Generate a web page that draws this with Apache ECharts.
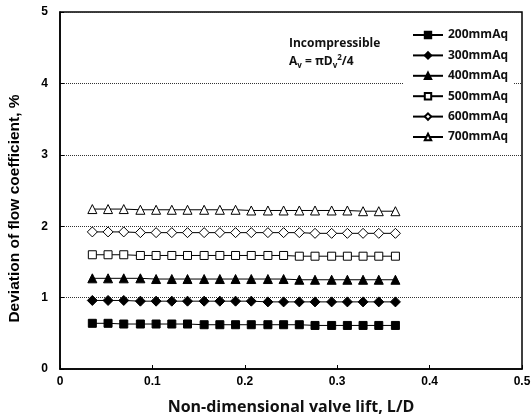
<!DOCTYPE html>
<html>
<head>
<meta charset="utf-8">
<script src="https://cdn.jsdelivr.net/npm/echarts@6/dist/echarts.min.js"></script>
<style>
  html, body { margin: 0; padding: 0; background: #fff; }
  #main { width: 531px; height: 420px; }
</style>
</head>
<body>
<div id="main"></div>
<script>
// valve lift L/D
const liftRatio = [0.035, 0.052, 0.069, 0.087, 0.104, 0.121, 0.138, 0.156, 0.173, 0.190,
  0.207, 0.225, 0.242, 0.259, 0.276, 0.294, 0.311, 0.328, 0.345, 0.363];

// deviation of flow coefficient, %
const dev200 = [0.64, 0.64, 0.63, 0.63, 0.63, 0.63, 0.63, 0.62, 0.62, 0.62,
  0.62, 0.62, 0.62, 0.62, 0.61, 0.61, 0.61, 0.61, 0.61, 0.61];
const dev300 = [0.96, 0.96, 0.96, 0.95, 0.95, 0.95, 0.95, 0.95, 0.95, 0.95,
  0.95, 0.94, 0.94, 0.94, 0.94, 0.94, 0.94, 0.94, 0.94, 0.94];
const dev400 = [1.27, 1.27, 1.27, 1.27, 1.26, 1.26, 1.26, 1.26, 1.26, 1.26,
  1.26, 1.26, 1.26, 1.25, 1.25, 1.25, 1.25, 1.25, 1.25, 1.25];
const dev500 = [1.60, 1.60, 1.60, 1.59, 1.59, 1.59, 1.59, 1.59, 1.59, 1.59,
  1.59, 1.59, 1.59, 1.58, 1.58, 1.58, 1.58, 1.58, 1.58, 1.58];
const dev600 = [1.92, 1.92, 1.92, 1.91, 1.91, 1.91, 1.91, 1.91, 1.91, 1.91,
  1.91, 1.91, 1.91, 1.91, 1.90, 1.90, 1.90, 1.90, 1.90, 1.90];
const dev700 = [2.24, 2.24, 2.24, 2.23, 2.23, 2.23, 2.23, 2.23, 2.23, 2.23,
  2.22, 2.22, 2.22, 2.22, 2.22, 2.22, 2.22, 2.21, 2.21, 2.21];

const seriesNames = ["200mmAq", "300mmAq", "400mmAq", "500mmAq", "600mmAq", "700mmAq"];
const seriesValues = [dev200, dev300, dev400, dev500, dev600, dev700];
const symbols = ["rect", "diamond", "triangle", "rect", "diamond", "triangle"];
const symbolSizes = [8, 10, 9, 8, 10, 9];
const filled = [true, true, true, false, false, false];

const xTicks = { min: 0, max: 0.5, interval: 0.1 };
const yTicks = { min: 0, max: 5, interval: 1 };

const labelFont = { color: "#000", fontWeight: "bold", fontSize: 12, fontFamily: "Liberation Sans, Arial" };

const series = seriesNames.map((name, i) => ({
  name,
  type: "line",
  data: liftRatio.map((x, j) => [x, seriesValues[i][j]]),
  symbol: symbols[i],
  symbolSize: symbolSizes[i],
  showSymbol: true,
  lineStyle: { color: "#000", width: 1 },
  itemStyle: {
    color: filled[i] ? "#000" : "#fff",
    borderColor: "#000",
    borderWidth: 1,
  },
  emphasis: { disabled: true },
  animation: false,
}));

const myChart = echarts.init(document.getElementById("main"));
const option = {
  backgroundColor: "#fff",
  animation: false,
  grid: {
    left: 60,
    right: 9,
    top: 12,
    bottom: 51,
    outerBoundsMode: "none",
    show: true,
    borderColor: "#000",
    borderWidth: 1.5,
  },
  legend: {
    orient: "vertical",
    left: 404,
    top: 27,
    backgroundColor: "#fff",
    padding: [2, 6, 4, 8],
    itemWidth: 30,
    itemHeight: 8,
    itemGap: 8.4,
    data: seriesNames,
    textStyle: { color: "#111", fontWeight: "bold", fontSize: 12, fontFamily: "Open Sans, Noto Sans" },
  },
  graphic: [
    {
      type: "text",
      left: 289,
      top: 38,
      z: 10,
      style: {
        text: "Incompressible",
        fill: "#111",
        font: "bold 12px 'Open Sans', 'Noto Sans'",
      },
    },
    {
      type: "text",
      left: 289,
      top: 54,
      z: 10,
      style: {
        text: "{b|A}{s|v}{b| = πD}{s|v}{p|2}{b|/4}",
        fill: "#111",
        rich: {
          b: { fontSize: 12, fontWeight: "bold", fontFamily: "Open Sans, Noto Sans", lineHeight: 16, verticalAlign: "middle", fill: "#111" },
          s: { fontSize: 8, fontWeight: "bold", fontFamily: "Open Sans, Noto Sans", lineHeight: 16, verticalAlign: "bottom", fill: "#111" },
          p: { fontSize: 8, fontWeight: "bold", fontFamily: "Open Sans, Noto Sans", lineHeight: 16, verticalAlign: "top", fill: "#111" },
        },
      },
    },
  ],
  xAxis: {
    type: "value",
    ...xTicks,
    name: "Non-dimensional valve lift, L/D",
    nameLocation: "middle",
    nameGap: 30,
    nameTextStyle: { color: "#111", fontWeight: "bold", fontSize: 16, fontFamily: "Open Sans, Noto Sans" },
    axisLine: { show: true, lineStyle: { color: "#000", width: 1.5 } },
    axisTick: { show: true, inside: true, length: 4, lineStyle: { color: "#000" } },
    axisLabel: { ...labelFont, margin: 7 },
    splitLine: { show: false },
  },
  yAxis: {
    type: "value",
    ...yTicks,
    name: "Deviation of flow coefficient, %",
    nameLocation: "middle",
    nameGap: 37,
    nameTextStyle: {
      color: "#000", fontWeight: "bold", fontSize: 15.5, fontFamily: "Liberation Sans, Arial",
      padding: [0, 36, 0, 0],
    },
    axisLine: { show: true, lineStyle: { color: "#000", width: 1.5 } },
    axisTick: { show: true, inside: true, length: 4, lineStyle: { color: "#000" } },
    axisLabel: { ...labelFont, margin: 12 },
    splitLine: { show: true, lineStyle: { color: "#333", type: "dotted", width: 1 } },
  },
  series,
};
myChart.setOption(option);
</script>
</body>
</html>
